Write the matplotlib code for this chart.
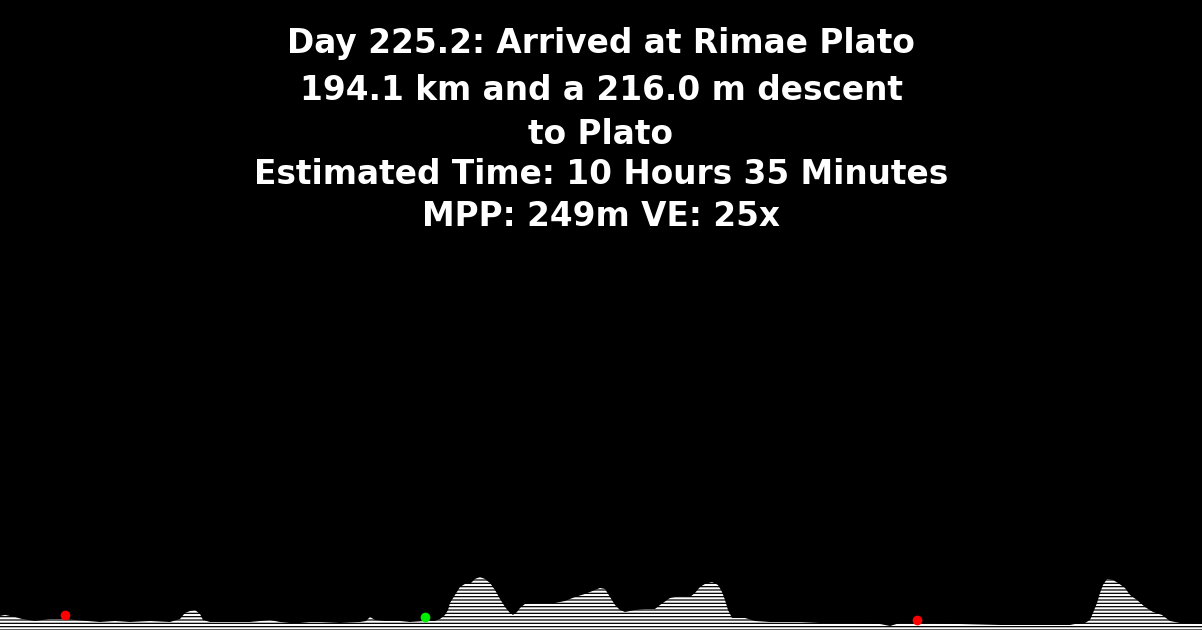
import matplotlib
matplotlib.use("Agg")
import matplotlib.pyplot as plt

plt.rcParams['hatch.linewidth'] = 1.5

title_lines = [
    "Day 225.2: Arrived at Rimae Plato",
    "194.1 km and a 216.0 m descent",
    "to Plato",
    "Estimated Time: 10 Hours 35 Minutes",
    "MPP: 249m VE: 25x",
]

distance_km = [0, 1.25, 3.75, 5.5, 8.75, 12.5, 16.25, 18.75, 25, 28.75, 32.5, 37.5, 42.5, 45, 46.25,
               47.5, 48.75, 50, 50.75, 52.5, 57.5, 62.5, 65, 67.5, 70, 72.5, 75, 77.5, 80, 85, 90,
               91.5, 92.5, 93.75, 96.25, 98.75, 100, 102.5, 106.25, 108.75, 110, 111.25, 112, 112.5,
               113.75, 115, 116.25, 117.5, 118.75, 120, 121.25, 122.5, 123.75, 125, 126.25, 127.5,
               128.25, 129.25, 130, 131.25, 133.75, 136.25, 138.75, 141.25, 143.75, 146.25, 147.5,
               148.75, 150, 151.25, 152.5, 153.75, 155, 156.25, 158.75, 161.25, 163.75, 165, 167.5,
               170, 172.5, 173.75, 175, 176.25, 178, 179.5, 180.5, 181.25, 182, 183, 185, 186.25,
               188.75, 192.5, 197.5, 200, 205, 212.5, 220, 222.5, 225, 232.5, 240, 250, 260, 267.5,
               268.75, 271.25, 272.5, 273.25, 274.25, 275, 275.75, 276.75, 278.25, 279.5, 281.25,
               282.5, 284.25, 286.25, 288.25, 290.5, 292.5, 295, 300.5]
elevation_m = [140, 150, 130, 110, 90, 110, 110, 100, 80, 90, 80, 90, 80, 110, 170,
               190, 200, 160, 100, 80, 80, 80, 90, 100, 80, 70, 70, 80, 80, 70, 80,
               90, 130, 100, 90, 90, 90, 80, 90, 90, 110, 150, 200, 270,
               350, 430, 460, 460, 510, 530, 510, 470, 400, 310, 230, 170,
               150, 180, 220, 260, 270, 270, 270, 290, 330, 360, 380,
               400, 420, 410, 330, 250, 200, 180, 200, 210, 210, 250, 320,
               340, 330, 370, 430, 460, 480, 450, 380, 300, 200, 120, 120, 120,
               90, 80, 80, 80, 70, 70, 60, 40, 70, 70, 60, 50, 50, 50,
               60, 70, 100, 170, 270, 370, 450, 510, 500, 470, 420,
               350, 300, 230, 180, 150, 90, 70, 60]

marker_km = [16.25, 106.25, 229.25]
marker_elev = [150, 130, 100]
marker_colors = ["#ff0000", "#00ee00", "#ff0000"]

fig = plt.figure(figsize=(12.02, 6.30), dpi=100, facecolor="black")
ax = fig.add_axes([0, 0, 1, 1])
ax.set_facecolor("black")
ax.fill_between(distance_km, elevation_m, 0, facecolor="black", edgecolor="white",
                hatch="-----", linewidth=0)
for k, e, c in zip(marker_km, marker_elev, marker_colors):
    ax.plot([k], [e], "o", color=c, markersize=7, markeredgewidth=0, zorder=5)
ax.set_xlim(0, 300.5)
ax.set_ylim(0, 6300)
ax.axis("off")

ys = [44, 91, 134, 175, 217]
for t, y in zip(title_lines, ys):
    fig.text(0.5, 1 - y / 630, t, ha="center", va="center", color="white",
             fontsize=23.6, fontweight="bold", family=["DejaVu Sans"])

fig.savefig("out.png", dpi=100, facecolor="black")
